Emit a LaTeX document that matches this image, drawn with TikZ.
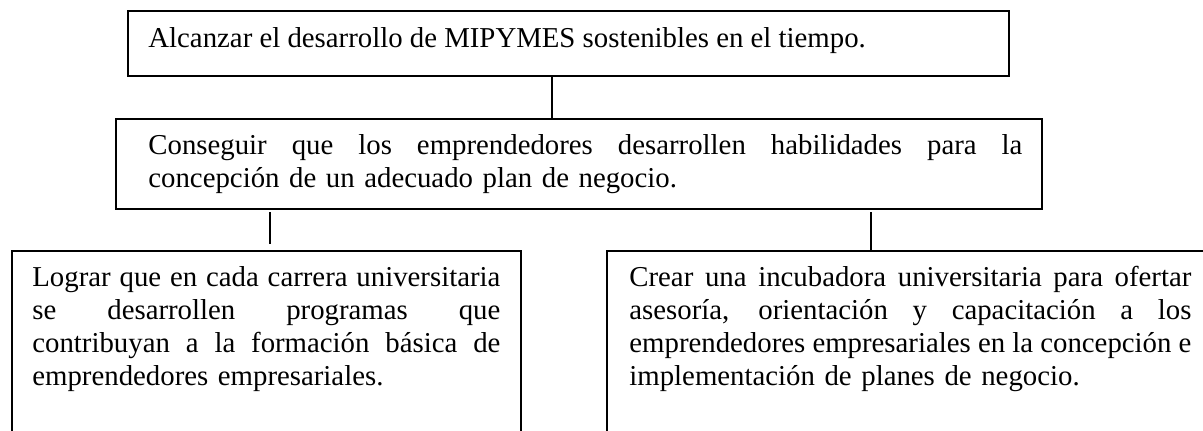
\documentclass[tikz,border=0pt]{standalone}
\usepackage{fontspec}
\setmainfont{Liberation Serif}
\newcommand\jl[2]{\leavevmode\hbox to #1{\spaceskip=\fontdimen2\font plus 1fil minus 0.06em\relax #2}}
\begin{document}
\begin{tikzpicture}[x=0.5pt,y=-0.5pt,
  boxstyle/.style={draw,line width=0.75pt,rectangle,inner sep=0pt,anchor=north west},
  txt/.style={inner sep=0pt,anchor=base west,align=left,font=\fontsize{14.4pt}{16.5pt}\selectfont},
  conn/.style={draw,line width=0.7pt}]
\useasboundingbox (0,0) rectangle (1203,430);
\clip (0,0) rectangle (1203,430);
% boxes
\node[boxstyle,minimum width=440.5pt,minimum height=32.5pt] (b1) at (127,10) {};
\node[boxstyle,minimum width=463pt,minimum height=45pt] (b2) at (115,118) {};
\node[boxstyle,minimum width=254.5pt,minimum height=110pt] (b3) at (11,250) {};
\node[boxstyle,minimum width=303pt,minimum height=110pt] (b4) at (606,250) {};
% texts
\node[txt] (t1) at (148,47) {Alcanzar el desarrollo de MIPYMES sostenibles en el tiempo.};
\node[txt,text width=437pt] (t2) at (148,154) {%
\jl{437pt}{Conseguir que los emprendedores desarrollen habilidades para la}\\
concepción de un adecuado plan de negocio.};
\node[txt,text width=234pt] (t3) at (32,286) {%
\jl{234pt}{Lograr que en cada carrera universitaria}\\
\jl{234pt}{se desarrollen programas que}\\
\jl{234pt}{contribuyan a la formación básica de}\\
emprendedores empresariales.};
\node[txt,text width=281pt] (t4) at (629,286) {%
\jl{281pt}{Crear una incubadora universitaria para ofertar}\\
\jl{281pt}{asesoría, orientación y capacitación a los}\\
\jl{281pt}{emprendedores empresariales en la concepción e}\\
implementación de planes de negocio.};
% connectors
\coordinate (k1) at (552,0);
\draw[conn] (k1 |- b1.south) -- (k1 |- b2.north);
\coordinate (l1a) at (270,212);
\coordinate (l1b) at (270,244);
\draw[conn] (l1a) -- (l1b);
\coordinate (r1a) at (871,212);
\draw[conn] (r1a) -- (r1a |- b4.north);
\end{tikzpicture}
\end{document}
